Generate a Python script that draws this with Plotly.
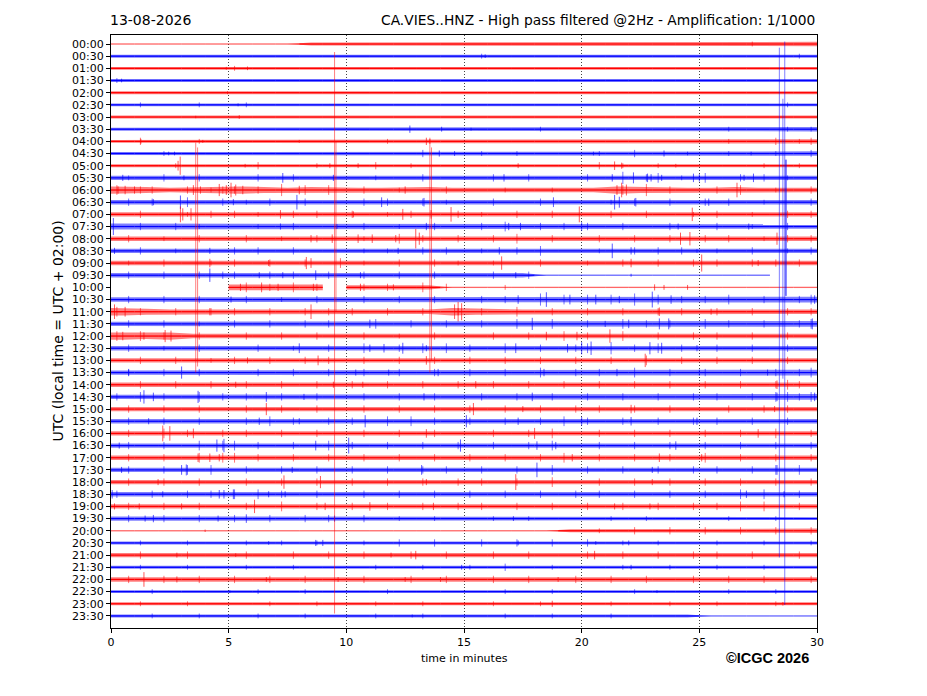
import plotly.graph_objects as go

# Helicorder rows (one every 30 minutes, local time)
row_labels = [
    "00:00", "00:30", "01:00", "01:30", "02:00", "02:30", "03:00", "03:30",
    "04:00", "04:30", "05:00", "05:30", "06:00", "06:30", "07:00", "07:30",
    "08:00", "08:30", "09:00", "09:30", "10:00", "10:30", "11:00", "11:30",
    "12:00", "12:30", "13:00", "13:30", "14:00", "14:30", "15:00", "15:30",
    "16:00", "16:30", "17:00", "17:30", "18:00", "18:30", "19:00", "19:30",
    "20:00", "20:30", "21:00", "21:30", "22:00", "22:30", "23:00", "23:30",
]

# Background noise level per minute (0 = flat trace, "-" = no data)
noise = [
    "000000002222222222222222233333",
    "222222222222222333322222222222",
    "222222222222222222222222222222",
    "222222222222222222222222222222",
    "222222222223333222222222222222",
    "233322222222222222222222222222",
    "222222222222222222222222222222",
    "222222222222222222222222222333",
    "222222222222222222222222222233",
    "222222222222222222223322222223",
    "223323223322222223322322222222",
    "333333333333333333333444433333",
    "543445434333443333333543334333",
    "334333343333333333333433333333",
    "334433333343334333343333433333",
    "433333333333343344334333333333",
    "333333334433433333333333433343",
    "333333333333333343333333333333",
    "333333334333333333333333333333",
    "3333333333333333330000000000--",
    "-----4444-33330000000000000000",
    "333333333333333334444444444334",
    "543333334333335433333333333333",
    "333333333333333334333434433334",
    "545333333333333333433433333333",
    "333333333334333333344334333333",
    "333333334333333333333343333333",
    "333333333333343333433433333334",
    "333333333333333333333333333443",
    "343433333333333333333333333444",
    "333333333333333333333333333333",
    "333333433344333334333333433333",
    "334333333333333333433333333433",
    "333343333333333333433333333333",
    "333443333333333333334333334333",
    "334433333333333333333333333343",
    "333333333333333334333333333333",
    "333344333333333333333333334433",
    "333333333333343333333333344333",
    "333333333332222222222222222222",
    "000000000000000000022332332233",
    "222222222333333333333222222222",
    "333333333333433333333333333333",
    "222222222222223322222222222222",
    "334433333333333333333333333333",
    "222222222222222222222222222222",
    "222222222222222222222222222222",
    "222222222222222222222222200000",
]

# Small wiggles per half minute (digit = height, "." = none)
wiggle = [
    ".......... .......... .......... .......... .......... ....2.....",
    ".......... .......... .......... .2........ .......... ........2.",
    ".......... 2......... .......... .......... .......... ..........",
    "2......... .......... .......... .......... .......... ..........",
    ".......... .......... .......... .......... .......... ..........",
    "..2....2.. .2........ .......... .......... .......... .......2..",
    ".......... .......... .......... .......... .......... ..........",
    ".......... .......... .......... ......2... .......... ..2....2.2",
    "..3....2.. .......... ...2...... .......... .......... ..2...3.23",
    "....2..... .......... ......3... .2..2..... .2..3..... ..2...2..3",
    ".....2.... ..3....2.. ..3..2.... .......... .3.2..2... .....2..2.",
    ".2..3..3.. ..3..3.... ..2...3... ..3..3.... 3..5.34.2. 4..3.3.2..",
    "4.33..3.23 3.3.5.4.4. .3..2...3. ...2...2.. ...4.5.3.. .3.4..2..3",
    ".3.3..4..3 .2.3..3... .3.3..3.2. ..3...3... ..2.3..3.. 3.3..2...3",
    "..3...2.3. 3.2..3.3.. 3..2.3...3 .2..3..3.. ..3..3...2 .3..2..3.3",
    "..3..3.2.. ..2..3.... .3..2..3.. .3.4..3.3. 3..3...3.. .3..2..3..",
    ".3..2..3.. .3..2..3.. .2..4.3..3 ..3.4..3.. .3..3..3.. 3.3..2.3.3",
    "..3..2.... 3.3..3.... .2.2..3.3. .2..3.4... .2..3.3.3. .2..3..2.3",
    ".2..3...2. 3..3..3..4 .2..3..3.2 ..2...3... 2..3..3..3 .3..3.3.3.",
    ".3..3..3.3 3..3.3..3. .3..3..3.. ..3..3.... .......... ..........",
    ".......... .4.3.4.3.4 .3.3..4.3. ...2...... .......... ..........",
    ".3..3..3.. .3..2..3.. .3..3..3.. .3.3..5.4. 4.4.5.4.3. 3.4..3..34",
    "4.3..3..3. 3..3..3.3. 3..3..3..3 .3..4..3.. 3..3..3.3. .3..3..3.3",
    ".3..3..2.. 3..3..3.3. ..4..3..3. .3..4..4.. 3..4.3.3.. 4.3..3..34",
    "4.4.3..3.. .3..3..3.. .3..2..3.. ..3..3..4. 3..4..3..3 .3..3..3..",
    ".3..2..3.. ..3..2..3. .4..3.4.4. 3..4..3..3 4.5.3.4.3. .3..3..3..",
    "..3..3..2. 3..3..3.3. .3..3..3.. 3..3..3..3 ..3..4..3. .3..3..3..",
    ".3..3..3.. ..3..3..3. .3..3..3.. 3..3..4..3 .3..4..3.. 3..3..3.34",
    "..3..3..3. .3..3..3.. 3..3..3..3 ..3..3..3. .3..3..3.. 3..3..343.",
    "3.4.3..4.3 .3..3..3.. .3..3..3.. .3..3..3.. 3..3..3..3 .3..3.4434",
    ".3..3..3.. .3..3..3.. .3..3..3.. 3..3..3..3 .3..3..3.. ..3..3.3..",
    ".3..3..3.. .3.4.3..3. 3..4.4.3.. 3..3..3.4. 3..3..3..3 .3..3..3..",
    ".3..4.3..3 .3..3..3.. .3..3..3.. ..3..3.4.. .3..3..3.. 3..3..4..3",
    ".3..3..4.4 4.3..3..4. 3..3..3..3 ..3..3.4.. .3..3..3.. 3..3..3..3",
    ".3..3..4.4 4.3..3..3. .3..3..3.. 3..3..3.4. .3..3..3.. 4..3..3..3",
    ".3..3.4.4. .3..3..3.. 3..3..3.3. .3..3..4.. 3..3..3..3 .3..3.4.4.",
    ".3..3..3.. .3..3..3.. 3..3..3..3 .3..3..4.. .3..3..3.. 3..3..3..3",
    "3..3..3.3. 4.4.3..3.. .3..3..3.. 3..3..3..3 .3..3..3.. 3..4.4..3.",
    ".3..3..3.. .3..4..3.. 3..3..3..3 .3..3..3.. 3..3..3..3 .3.4.4..3.",
    ".3..3..3.. 3..3..3.3. .3..2..2.. ..2..2.... ..2..2.... ..2...2...",
    ".......... .......... .......... .......... .2..3..3.. 3..3..3..3",
    "..2...2... .2..2..2.. .2..3..3.. .3..3..3.. 3..2..2... .2...2...2",
    "..3...3... .3...3..3. .3...3..3. ..3..3.... 3..3..3..3 .3..3...3.",
    "..2...2... .2...2.... ..2...2... 2..3...2.. ...2...2.. .2...2....",
    ".3..3..3.. 3..3..3... .3...3..3. ..3..3...3 ..3..3...3 ..3..3...3",
    "...2...... ..2...2... ...2...... ...2...2.. ....2..... ..2...2...",
    "..2...2... ...2...2.. ..2...2... ..2...2... ..2....2.. .2....2...",
    "...2...2.. ..2...2... ..2...2... ...2...2.. ..2....... ..........",
]

# Larger single spikes per row: (minute, half height in row units)
spikes = [
    [],
    [(15.9, 0.15)],
    [(4.9, 0.12), (5.8, 0.15)],
    [(0.45, 0.15)],
    [(4.95, 0.12)],
    [(5.4, 0.12)],
    [(3.6, 0.1), (5.45, 0.15)],
    [(12.7, 0.3), (14.05, 0.2), (15.3, 0.12)],
    [(1.27, 0.2), (3.9, 0.12), (8.0, 0.12), (13.4, 0.3), (13.55, 0.2)],
    [(2.45, 0.15), (2.7, 0.15), (13.95, 0.25), (14.6, 0.2), (20.5, 0.15), (23.5, 0.25), (24.5, 0.15), (27.2, 0.15)],
    [(2.85, 0.4), (2.94, 0.75), (5.7, 0.15), (9.3, 0.2), (10.5, 0.2), (17.3, 0.2), (21.4, 0.35), (21.7, 0.25), (24.0, 0.15)],
    [(0.5, 0.25), (3.1, 0.2), (7.3, 0.4), (9.45, 0.25), (16.7, 0.3), (21.3, 0.3), (22.2, 0.45), (22.8, 0.35), (22.95, 0.3), (23.4, 0.25), (24.75, 0.35), (25.0, 0.3), (26.9, 0.25), (27.3, 0.35)],
    [(0.3, 0.3), (0.6, 0.35), (1.0, 0.3), (3.5, 0.4), (3.8, 0.3), (4.6, 0.5), (4.9, 0.4), (5.1, 0.6), (5.3, 0.45), (5.6, 0.35), (8.0, 0.35), (12.5, 0.3), (21.5, 0.4), (21.7, 0.6), (21.9, 0.45), (26.6, 0.6)],
    [(1.8, 0.25), (2.95, 0.55), (5.2, 0.25), (7.9, 0.6), (11.5, 0.4), (13.3, 0.35), (18.8, 0.4), (21.4, 0.6), (21.6, 0.45), (22.3, 0.35), (25.4, 0.3)],
    [(2.95, 0.65), (3.05, 0.5), (3.4, 0.5), (7.2, 0.35), (10.3, 0.25), (12.4, 0.45), (13.6, 0.35), (14.45, 0.6), (19.9, 0.65), (24.7, 0.55)],
    [(0.1, 0.7), (7.2, 0.25), (9.6, 0.2), (13.4, 0.3), (16.9, 0.3), (17.4, 0.3), (20.0, 0.35), (24.1, 0.25), (27.1, 0.25)],
    [(8.5, 0.3), (9.4, 0.35), (10.5, 0.35), (11.1, 0.35), (12.1, 0.3), (12.95, 0.8), (13.1, 0.5), (24.2, 0.5), (24.6, 0.55), (28.3, 0.5)],
    [(0.15, 0.25), (4.2, 0.25), (12.2, 0.25), (16.5, 0.3), (21.3, 0.6), (22.1, 0.3), (24.9, 0.15)],
    [(4.2, 0.35), (6.7, 0.25), (8.3, 0.5), (8.5, 0.4), (16.6, 0.55), (22.1, 0.35), (25.1, 0.7), (27.5, 0.25)],
    [(4.2, 0.55), (6.3, 0.25), (7.3, 0.25), (8.7, 0.4), (10.6, 0.25), (17.2, 0.25), (22.1, 0.12)],
    [(5.5, 0.3), (6.4, 0.4), (7.1, 0.3), (8.6, 0.3), (10.6, 0.3), (12.0, 0.25), (23.1, 0.25), (23.5, 0.2), (24.5, 0.2)],
    [(5.1, 0.25), (17.3, 0.35), (18.5, 0.6), (19.5, 0.4), (20.6, 0.4), (21.6, 0.3), (23.0, 0.65), (23.8, 0.35), (29.9, 0.35)],
    [(0.15, 0.6), (0.6, 0.4), (4.2, 0.3), (8.5, 0.6), (14.6, 0.6), (14.75, 0.8), (14.9, 0.7), (23.3, 0.35), (25.5, 0.25)],
    [(11.0, 0.35), (17.9, 0.5), (21.0, 0.25), (22.0, 0.35), (23.3, 0.45), (23.7, 0.45), (29.8, 0.45)],
    [(0.5, 0.35), (1.4, 0.3), (2.3, 0.5), (2.55, 0.45), (18.5, 0.35), (19.8, 0.35), (21.2, 0.55)],
    [(8.0, 0.4), (11.0, 0.3), (11.6, 0.35), (12.4, 0.45), (13.4, 0.25), (17.2, 0.4), (19.4, 0.35), (20.0, 0.5), (20.4, 0.55), (22.9, 0.5), (23.4, 0.45), (24.9, 0.25)],
    [(5.8, 0.25), (8.8, 0.4), (13.4, 0.35), (22.7, 0.55)],
    [(0.75, 0.25), (3.0, 0.5), (10.4, 0.25), (11.8, 0.25), (13.9, 0.3), (18.4, 0.3), (21.5, 0.3), (25.0, 0.25), (27.9, 0.25)],
    [(5.3, 0.25), (9.45, 0.25), (10.7, 0.25), (15.5, 0.3), (28.3, 0.35)],
    [(1.4, 0.55), (1.8, 0.35), (3.7, 0.5), (6.6, 0.4), (8.2, 0.25), (13.3, 0.3), (17.9, 0.35), (28.3, 0.35), (29.9, 0.35)],
    [(6.6, 0.5), (15.4, 0.5), (17.5, 0.25), (22.1, 0.35), (28.2, 0.25)],
    [(1.6, 0.25), (6.3, 0.3), (8.0, 0.25), (10.8, 0.5), (15.1, 0.5), (17.3, 0.3), (20.0, 0.35), (22.1, 0.35), (24.9, 0.3)],
    [(2.2, 0.65), (2.5, 0.6), (3.5, 0.4), (13.4, 0.35), (18.0, 0.45), (27.5, 0.35)],
    [(0.35, 0.25), (4.5, 0.5), (4.8, 0.55), (8.7, 0.4), (10.1, 0.65), (14.85, 0.5), (18.1, 0.35), (18.9, 0.3), (24.0, 0.35)],
    [(3.7, 0.35), (4.2, 0.35), (4.6, 0.3), (19.6, 0.3), (23.3, 0.35), (25.1, 0.3)],
    [(0.45, 0.25), (3.0, 0.4), (3.2, 0.45), (7.7, 0.25), (13.2, 0.4), (18.1, 0.6), (23.0, 0.25), (28.3, 0.4)],
    [(2.0, 0.25), (7.35, 0.55), (8.9, 0.5), (13.4, 0.25), (17.2, 0.65), (23.0, 0.25)],
    [(0.05, 0.35), (2.2, 0.25), (4.6, 0.35), (4.8, 0.35), (5.2, 0.4), (6.7, 0.25), (7.4, 0.25), (27.0, 0.3), (28.6, 0.25)],
    [(0.15, 0.25), (1.2, 0.25), (3.0, 0.25), (6.1, 0.55), (9.1, 0.3), (11.0, 0.35), (13.7, 0.3), (21.4, 0.25), (22.9, 0.25)],
    [(1.45, 0.25), (1.8, 0.3), (4.55, 0.25), (5.75, 0.35), (9.5, 0.25), (17.1, 0.2)],
    [(4.0, 0.1)],
    [(6.7, 0.15), (8.7, 0.25), (9.0, 0.25), (17.3, 0.2), (20.6, 0.15), (22.0, 0.2)],
    [(2.8, 0.2), (5.3, 0.15), (11.9, 0.2), (12.95, 0.35), (20.55, 0.35)],
    [(14.9, 0.2), (22.1, 0.2)],
    [(1.4, 0.6), (2.8, 0.25), (6.6, 0.2), (9.65, 0.2), (12.5, 0.2), (14.0, 0.2), (19.0, 0.2)],
    [(5.05, 0.12), (23.2, 0.12)],
    [(18.75, 0.25), (28.55, 0.15)],
    [(12.8, 0.12)],
]

# Large events that overflow across many rows
long_min = [9.5, 9.56, 3.6, 3.68, 13.55, 13.62, 28.4, 28.55, 28.63, 28.66, 28.7]
long_top = [0.66, 8.0, 8.1, 8.5, 7.7, 8.5, 0.3, 4.5, -0.2, 9.5, 9.5]
long_bottom = [46.8, 22.0, 27.0, 26.5, 27.0, 26.0, 42.2, 27.5, 46.1, 20.7, 20.7]
long_row = [24, 24, 16, 16, 20, 20, 19, 19, 19, 19, 19]

LEVEL = 0.06   # row units per noise level
WIGGLE = 0.1   # row units per wiggle level
RED = (255, 0, 0)
BLUE = (0, 0, 255)


def rgba(c, a):
    return "rgba(%d,%d,%d,%s)" % (c[0], c[1], c[2], a)


fig = go.Figure()

for r, levels in enumerate(noise):
    col = RED if r % 2 == 0 else BLUE

    # contiguous runs with data
    runs = []
    i = 0
    while i < len(levels):
        if levels[i] == "-":
            i += 1
            continue
        j = i
        while j + 1 < len(levels) and levels[j + 1] != "-":
            j += 1
        runs.append((i, j))
        i = j + 1

    # noise envelope
    bx, by = [], []
    for i, j in runs:
        xs = [i] + [k + 0.5 for k in range(i, j + 1)] + [j + 1]
        amps = [int(levels[i])] + [int(levels[k]) for k in range(i, j + 1)] + [int(levels[j])]
        up = [r - a * LEVEL for a in amps]
        dn = [r + a * LEVEL for a in amps]
        bx += xs + xs[::-1] + [None]
        by += up + dn[::-1] + [None]
    fig.add_trace(go.Scatter(
        x = bx, y = by, mode = "lines", fill = "toself",
        fillcolor = rgba(col, 0.5), line = dict(width = 0),
        hoverinfo = "skip", showlegend = False
    ))

    # centre line, lighter where the trace is flat
    live_x, live_y, flat_x, flat_y = [], [], [], []
    for k, ch in enumerate(levels):
        if ch == "-":
            continue
        if ch == "0":
            flat_x += [k, k + 1, None]
            flat_y += [r, r, None]
        else:
            live_x += [k, k + 1, None]
            live_y += [r, r, None]
    fig.add_trace(go.Scatter(
        x = live_x, y = live_y, mode = "lines",
        line = dict(width = 1.3, color = rgba(col, 1)),
        hoverinfo = "skip", showlegend = False
    ))
    if flat_x:
        fig.add_trace(go.Scatter(
            x = flat_x, y = flat_y, mode = "lines",
            line = dict(width = 1.3, color = rgba(col, 0.6)),
            hoverinfo = "skip", showlegend = False
        ))

    # small wiggles
    wx, wy = [], []
    for q, ch in enumerate(wiggle[r].replace(" ", "")):
        if ch.isdigit() and levels[min(q // 2, len(levels) - 1)] != "-":
            h = int(ch) * WIGGLE
            m = q * 0.5 + 0.25
            wx += [m, m, None]
            wy += [r - h, r + h, None]
    if wx:
        fig.add_trace(go.Scatter(
            x = wx, y = wy, mode = "lines",
            line = dict(width = 1, color = rgba(col, 0.55)),
            hoverinfo = "skip", showlegend = False
        ))

    # spikes
    sx, sy = [], []
    for m, p in spikes[r]:
        sx += [m, m, None]
        sy += [r - p, r + p, None]
    if sx:
        fig.add_trace(go.Scatter(
            x = sx, y = sy, mode = "lines",
            line = dict(width = 1, color = rgba(col, 0.65)),
            hoverinfo = "skip", showlegend = False
        ))

# overflowing events
for parity, col in [(0, RED), (1, BLUE)]:
    lx, ly = [], []
    for m, t, b, r in zip(long_min, long_top, long_bottom, long_row):
        if r % 2 == parity:
            lx += [m, m, None]
            ly += [t, b, None]
    fig.add_trace(go.Scatter(
        x = lx, y = ly, mode = "lines",
        line = dict(width = 1, color = rgba(col, 0.5)),
        hoverinfo = "skip", showlegend = False
    ))

fig.update_layout(
    width = 919,
    height = 688,
    margin = dict(l = 103, r = 110, t = 27, b = 68),
    paper_bgcolor = "white",
    plot_bgcolor = "white",
    font = dict(family = "DejaVu Sans", color = "black", size = 11),
    xaxis = dict(
        range = [0, 30],
        tickvals = [0, 5, 10, 15, 20, 25, 30],
        ticks = "outside", ticklen = 4, tickcolor = "black",
        showline = True, mirror = True, linecolor = "black", linewidth = 1,
        showgrid = True, gridcolor = "#444444", gridwidth = 0.8, griddash = "1px,2px",
        zeroline = False,
        tickfont = dict(size = 11),
    ),
    yaxis = dict(
        range = [47.99, -0.74],
        tickvals = list(range(len(row_labels))),
        ticktext = row_labels,
        ticks = "outside", ticklen = 4, tickcolor = "black",
        showline = True, mirror = True, linecolor = "black", linewidth = 1,
        showgrid = False, zeroline = False,
        tickfont = dict(size = 11),
    ),
    annotations = [
        dict(text = "13-08-2026", xref = "paper", yref = "paper", x = 0, y = 1,
             xanchor = "left", yanchor = "bottom", xshift = -3, yshift = 5,
             showarrow = False, font = dict(size = 14)),
        dict(text = "CA.VIES..HNZ - High pass filtered @2Hz - Amplification: 1/1000",
             xref = "paper", yref = "paper", x = 1, y = 1,
             xanchor = "right", yanchor = "bottom", yshift = 5,
             showarrow = False, font = dict(size = 13.8)),
        dict(text = "UTC (local time = UTC + 02:00)", xref = "paper", yref = "paper",
             x = 0, y = 0.5, xanchor = "center", yanchor = "middle", xshift = -54,
             textangle = -90, showarrow = False, font = dict(size = 14)),
        dict(text = "time in minutes", xref = "x", yref = "paper", x = 15, y = 0,
             xanchor = "center", yanchor = "top", yshift = -22,
             showarrow = False, font = dict(size = 11)),
        dict(text = "<b>©ICGC 2026</b>", xref = "paper", yref = "paper", x = 0.9915, y = 0,
             xanchor = "right", yanchor = "top", yshift = -20,
             showarrow = False, font = dict(size = 14.5, family = "Liberation Sans")),
    ],
)

fig.write_html("out.html")
